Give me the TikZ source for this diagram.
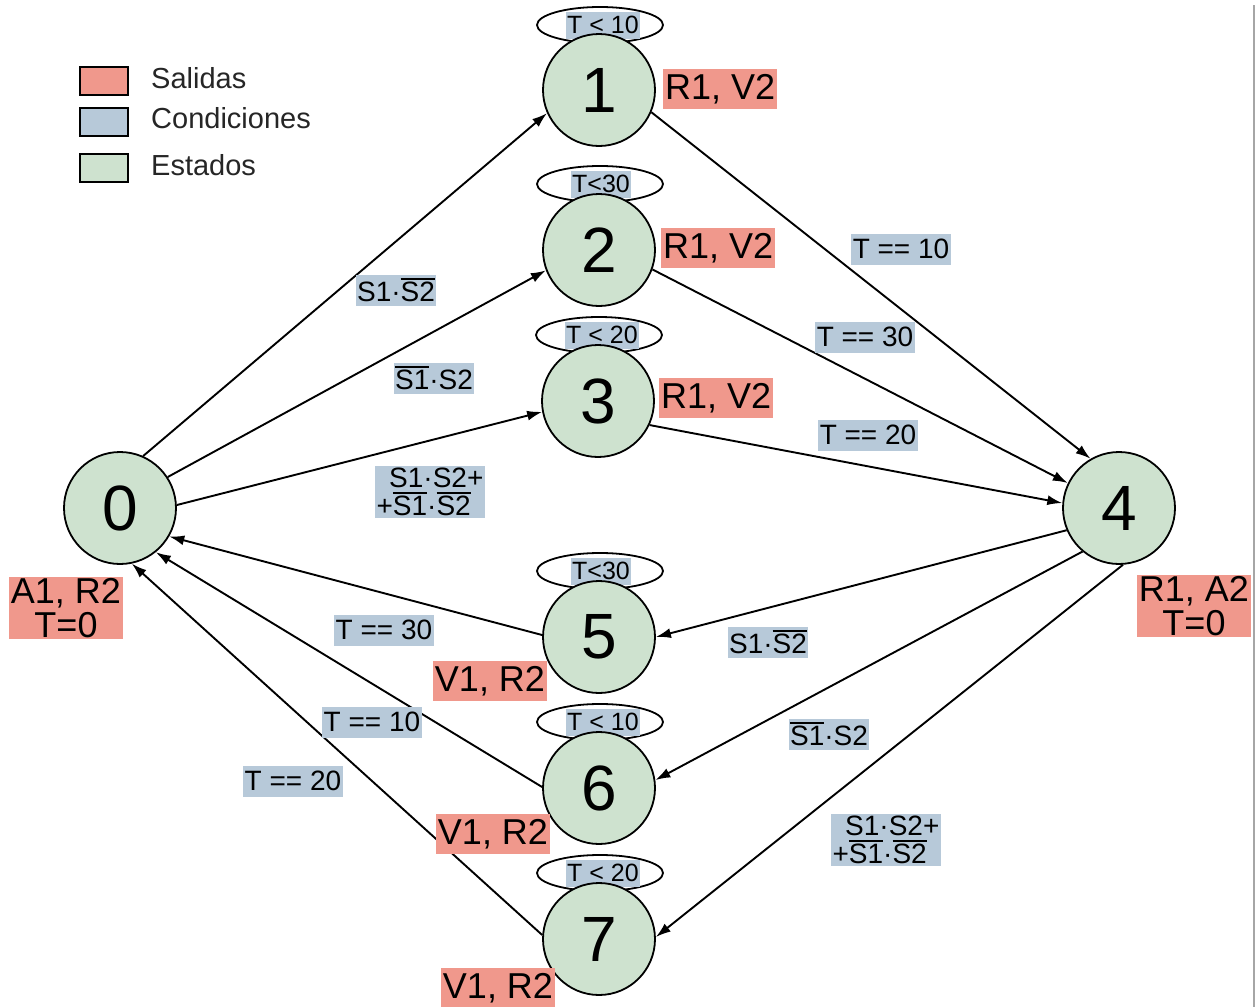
\documentclass[tikz,border=0pt]{standalone}
\usepackage{fontspec}
\setmainfont{Liberation Sans}
\usetikzlibrary{arrows.meta}
\definecolor{salida}{RGB}{240,152,140}
\definecolor{condic}{RGB}{183,201,217}
\definecolor{estado}{RGB}{206,226,207}
\newcommand{\ovl}[1]{\leavevmode\vbox{\hrule height 2pt\kern 2.5pt\hbox{#1}}}
\tikzset{
  estadonode/.style={circle, draw=black, line width=1.8pt, fill=estado, minimum size=112pt, inner sep=0pt, font=\fontsize{64}{64}\selectfont},
  guardring/.style={draw=black, line width=1.8pt, fill=white},
  guard/.style={fill=condic, inner xsep=1pt, inner ysep=0pt, minimum height=27pt, font=\fontsize{25}{25}\selectfont},
  salout/.style={fill=salida, inner xsep=2pt, inner ysep=1pt, minimum height=40pt, font=\fontsize{36}{34}\selectfont, align=center},
  cond/.style={fill=condic, inner xsep=1.5pt, inner ysep=2pt, minimum height=31pt, font=\fontsize{28}{28}\selectfont, align=left},
  edge/.style={draw=black, line width=1.9pt, -{Latex[length=15pt,width=10pt]}},
  legbox/.style={draw=black, line width=1.8pt, minimum width=48pt, minimum height=28pt, inner sep=0pt},
  legtext/.style={anchor=base west, inner sep=0pt, font=\fontsize{29}{29}\selectfont, text=black!85}
}
\begin{document}
\begin{tikzpicture}[x=1pt,y=-1pt]
\fill[white] (0,0) rectangle (1259,1007);
\useasboundingbox (0,0) rectangle (1259,1007);
\draw[gray!70, line width=2pt] (1254,5) -- (1254,1007);

% legend
\node[legbox, fill=salida] (lsal) at (104,81) {};
\node[legbox, fill=condic] (lcon) at (104,122) {};
\node[legbox, fill=estado] (lest) at (104,168) {};
\node[legtext] (tsal) at (151,88) {Salidas};
\node[legtext] (tcon) at (151,128) {Condiciones};
\node[legtext] (test) at (151,175) {Estados};

% guard rings with conditions
\draw[guardring] (600,25) ellipse [x radius=63pt, y radius=18pt];
\node[guard] (g1) at (603,25) {T < 10};
\draw[guardring] (600,184) ellipse [x radius=63pt, y radius=18pt];
\node[guard] (g2) at (601,184) {T<30};
\draw[guardring] (599,335) ellipse [x radius=63pt, y radius=18pt];
\node[guard] (g3) at (602,335) {T < 20};
\draw[guardring] (600,571) ellipse [x radius=63pt, y radius=18pt];
\node[guard] (g5) at (601,571) {T<30};
\draw[guardring] (600,722) ellipse [x radius=63pt, y radius=18pt];
\node[guard] (g6) at (603,722) {T < 10};
\draw[guardring] (600,873) ellipse [x radius=63pt, y radius=18pt];
\node[guard] (g7) at (603,873) {T < 20};

% states
\node[estadonode] (n0) at (120,508) {0};
\node[estadonode] (n1) at (599,90) {1};
\node[estadonode] (n2) at (599,250) {2};
\node[estadonode] (n3) at (598,401) {3};
\node[estadonode] (n4) at (1119,508) {4};
\node[estadonode] (n5) at (599,637) {5};
\node[estadonode] (n6) at (599,788) {6};
\node[estadonode] (n7) at (599,939) {7};

% transitions
\draw[edge] (n0.66) -- (n1.204);
\draw[edge] (n0.33) -- (n2.201);
\draw[edge] (n0.3) -- (n3.191);
\draw[edge] (n1.337) -- (n4.120);
\draw[edge] (n2.340) -- (n4.154);
\draw[edge] (n3.335) -- (n4.175);
\draw[edge] (n4.203) -- (n5.0);
\draw[edge] (n4.230) -- (n6.8);
\draw[edge] (n4.274) -- (n7.2);
\draw[edge] (n5.178) -- (n0.330);
\draw[edge] (n6.179) -- (n0.309);
\draw[edge] (n7.176) -- (n0.282);

% conditions on transitions
\node[cond] (c01) at (396,290) {S1·\ovl{S2}};
\node[cond] (c02) at (434,378) {\ovl{S1}·S2};
\node[cond] (c03) at (430,492) {\hspace*{0.45em}S1·S2+\\+\ovl{S1}·\ovl{S2}};
\node[cond] (c14) at (901,249) {T == 10};
\node[cond] (c24) at (865,337) {T == 30};
\node[cond] (c34) at (868,435) {T == 20};
\node[cond] (c45) at (768,642) {S1·\ovl{S2}};
\node[cond] (c46) at (829,734) {\ovl{S1}·S2};
\node[cond] (c47) at (886,840) {\hspace*{0.45em}S1·S2+\\+\ovl{S1}·\ovl{S2}};
\node[cond] (c50) at (384,630) {T == 30};
\node[cond] (c60) at (372,722) {T == 10};
\node[cond] (c70) at (293,781) {T == 20};

% outputs
\node[salout] (o0) at (66,608) {A1, R2\\T=0};
\node[salout] (o4) at (1194,606) {R1, A2\\T=0};
\node[salout, anchor=west] (o1) at (663,89) {R1, V2};
\node[salout, anchor=west] (o2) at (661,248) {R1, V2};
\node[salout, anchor=west] (o3) at (659,398) {R1, V2};
\node[salout] (o5) at (490,681) {V1, R2};
\node[salout] (o6) at (493,834) {V1, R2};
\node[salout] (o7) at (498,988) {V1, R2};
\end{tikzpicture}
\end{document}
